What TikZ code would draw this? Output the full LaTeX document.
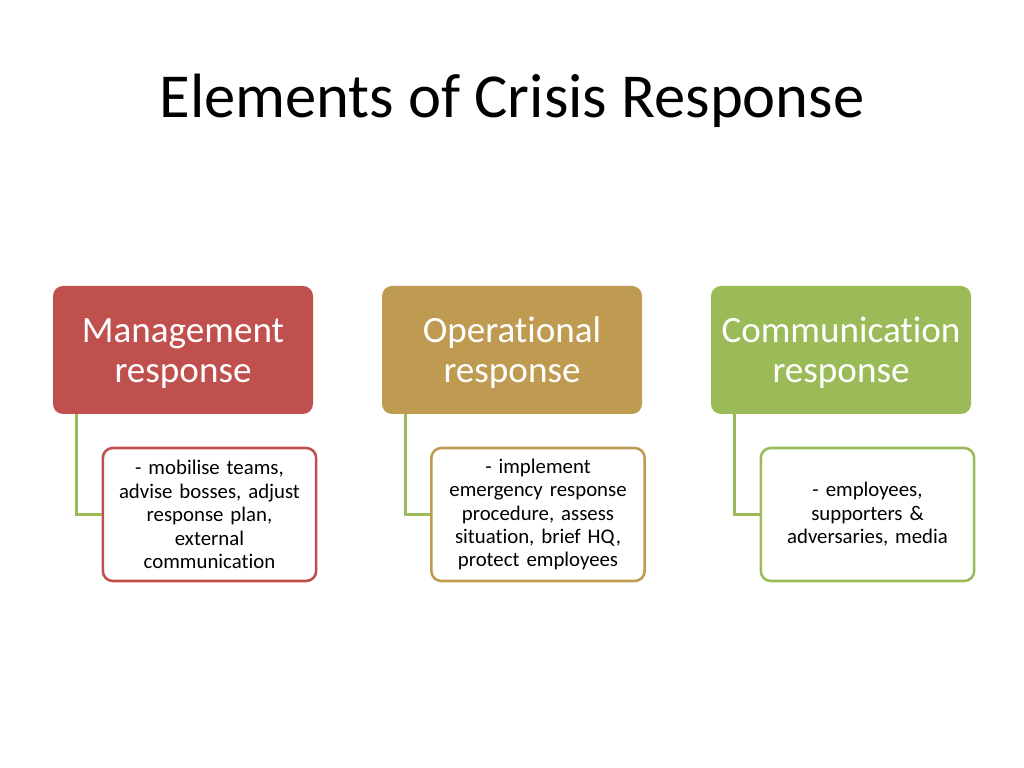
\documentclass[tikz,border=0pt]{standalone}
\usepackage{fontspec}
\setmainfont{Carlito}[Ligatures={NoCommon}]
\usepackage{tikz}
\usetikzlibrary{calc}
\definecolor{mgmtred}{HTML}{C0504D}
\definecolor{opgold}{HTML}{BE9B51}
\definecolor{comgreen}{HTML}{9BBB59}
\tikzset{
  head/.style={rounded corners=0.25cm, minimum width=6.5cm, minimum height=3.2cm,
    text width=6.2cm, align=center, text=white, text height=22pt,
    font=\fontsize{26.4}{29}\selectfont},
  detail/.style={draw, line width=1.8pt, fill=white, rounded corners=0.25cm,
    minimum width=5.275cm, minimum height=3.325cm, text width=5.1cm, align=center,
    font=\fontsize{14.8}{16.7}\selectfont},
  link/.style={draw=comgreen, line width=2pt}
}
\begin{document}
\begin{tikzpicture}
    \fill[white] (0,0) rectangle (25.6,19.2);
    \useasboundingbox (0,0) rectangle (25.6,19.2);
    %% Title
    \node[font=\fontsize{44.5}{50}\selectfont] (title) at (12.8,16.68) {Elements of Crisis Response};
    %% Headings
    \node[head, fill=mgmtred] (mgmt) at (4.575,10.45) {Management\\response};
    \node[head, fill=opgold] (oper) at (12.8,10.45) {Operational\\response};
    \node[head, fill=comgreen] (comm) at (21.025,10.45) {Communication\\response};
    %% Details
    \node[detail, draw=mgmtred] (mgmtsub) at (5.2375,6.3375)
      {- mobilise teams,\\advise bosses, adjust\\response plan,\\external\\communication};
    \node[detail, draw=opgold] (opersub) at (13.45,6.3375)
      {- implement\\emergency response\\procedure, assess\\situation, brief HQ,\\protect employees};
    \node[detail, draw=comgreen] (commsub) at (21.6875,6.3375)
      {- employees,\\supporters \&\\adversaries, media};
    %% Links
    \draw[link] ($(mgmt.south west)+(0.6,0)$) |- (mgmtsub.west);
    \draw[link] ($(oper.south west)+(0.6,0)$) |- (opersub.west);
    \draw[link] ($(comm.south west)+(0.6,0)$) |- (commsub.west);
\end{tikzpicture}
\end{document}
